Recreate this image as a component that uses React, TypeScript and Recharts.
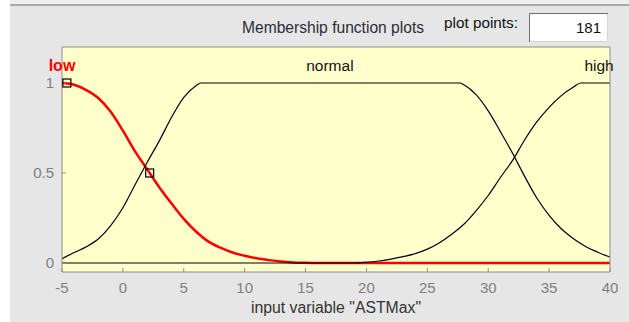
import React from "react";
import { ComposedChart, Line, Scatter, XAxis, YAxis, CartesianGrid, ReferenceDot } from "recharts";

// membership function samples (input variable range -5 .. 40)
const lowX = [-5, -4, -3, -2, -1, 0, 1, 2, 3, 4, 5, 6, 7, 8, 9, 10, 11, 12, 13, 14, 15, 16, 40];
const lowY = [1, 0.99, 0.96, 0.915, 0.84, 0.735, 0.62, 0.52, 0.42, 0.33, 0.245, 0.175, 0.12, 0.085, 0.058, 0.04, 0.026, 0.016, 0.008, 0.003, 0.001, 0, 0];

const normalX = [-5, -4, -3, -2, -1, 0, 1, 2, 3, 4, 5, 6, 6.4, 27.7, 28, 29, 30, 31, 32, 33, 34, 35, 36, 37, 38, 39, 40];
const normalY = [0.024, 0.058, 0.09, 0.135, 0.208, 0.307, 0.435, 0.56, 0.68, 0.81, 0.92, 0.985, 1, 1, 0.99, 0.935, 0.845, 0.73, 0.61, 0.48, 0.36, 0.265, 0.19, 0.135, 0.092, 0.06, 0.033];

const highX = [-5, 19, 20, 21, 22, 23, 24, 25, 26, 27, 28, 29, 30, 31, 32, 33, 34, 35, 36, 37, 37.6, 40];
const highY = [0, 0, 0.004, 0.011, 0.022, 0.035, 0.052, 0.077, 0.113, 0.16, 0.215, 0.29, 0.375, 0.475, 0.57, 0.685, 0.785, 0.865, 0.93, 0.978, 1, 1];

// handles on the selected curve
const handleX = [-4.6, 2.2];
const handleY = [1, 0.5];

const mfNames = ["low", "normal", "high"];
const mfLabelX = [-5, 17, 39.1];

const xTicks = [-5, 0, 5, 10, 15, 20, 25, 30, 35, 40];
const yTicks = [0, 0.5, 1];
const plotPoints = 181;

const zip = (xs: number[], ys: number[]) => xs.map((x, i) => ({ x, y: ys[i] }));

const FONT = "'Liberation Sans', Arial, sans-serif";
const BORDER = "#8c8c8c";

const Handle = (props: any) => {
  const { cx, cy } = props;
  return <rect x={cx - 4} y={cy - 4} width={8} height={8} fill="none" stroke="#000" strokeWidth={1.2} />;
};

export default function App() {
  return (
    <div style={{ position: "absolute", left: 0, top: 0, width: 629, height: 322, background: "#fff", fontFamily: FONT }}>
      <svg width={629} height={322} style={{ position: "absolute", left: 0, top: 0 }}>
        <rect x={10} y={0} width={619} height={322} fill="#e6e6e6" />
        <rect x={10} y={0} width={619} height={4} fill="#eeeeee" />
        <rect x={10} y={4} width={619} height={2} fill="#a8a8a8" />
        <text x={242} y={33} fontSize={15.6} fill="#2c2c3a">Membership function plots</text>
        <text x={444} y={28} fontSize={15.3} fill="#111">plot points:</text>
        <rect x={529} y={13} width={79} height={29} fill="#fff" />
        <path d="M529.5 42 V13.5 H608" stroke="#6e6e6e" fill="none" />
        <path d="M530 41.5 H607.5 V14" stroke="#d6d6d6" fill="none" />
        <text x={601} y={33} fontSize={15} fill="#111" textAnchor="end">{plotPoints}</text>
      </svg>
      <div style={{ position: "absolute", left: 0, top: 0 }}>
        <ComposedChart width={629} height={322} margin={{ top: 47, right: 19, bottom: 20, left: 22 }}>
          <CartesianGrid horizontal={false} vertical={false} fill="#ffffcc" />
          <XAxis
            xAxisId={0}
            type="number"
            dataKey="x"
            domain={[-5, 40]}
            ticks={xTicks}
            allowDataOverflow
            height={30}
            tickSize={-4}
            tickMargin={14}
            stroke={BORDER}
            tick={{ fill: "#808080", fontSize: 15, fontFamily: FONT }}
            label={{ value: 'input variable "ASTMax"', position: "bottom", offset: 0, fill: "#333", fontSize: 15.8, fontFamily: FONT }}
          />
          <XAxis
            xAxisId="top"
            orientation="top"
            mirror
            type="number"
            domain={[-5, 40]}
            ticks={xTicks}
            allowDataOverflow
            tick={false}
            tickSize={4}
            stroke={BORDER}
          />
          <YAxis
            yAxisId={0}
            type="number"
            domain={[-0.05, 1.2]}
            ticks={yTicks}
            allowDataOverflow
            width={40}
            tickSize={-4}
            tickMargin={12}
            stroke={BORDER}
            tick={{ fill: "#808080", fontSize: 15, fontFamily: FONT }}
          />
          <YAxis
            yAxisId="right"
            orientation="right"
            mirror
            type="number"
            domain={[-0.05, 1.2]}
            ticks={yTicks}
            allowDataOverflow
            tick={false}
            tickSize={4}
            stroke={BORDER}
          />
          <Line data={zip(lowX, lowY)} dataKey="y" type="monotone" stroke="#ff0000" strokeWidth={2.5} dot={false} isAnimationActive={false} />
          <Line data={zip(normalX, normalY)} dataKey="y" type="monotone" stroke="#000" strokeWidth={1.2} dot={false} isAnimationActive={false} />
          <Line data={zip(highX, highY)} dataKey="y" type="monotone" stroke="#000" strokeWidth={1.2} dot={false} isAnimationActive={false} />
          <Scatter data={zip(handleX, handleY)} dataKey="y" shape={<Handle />} isAnimationActive={false} />
          {mfNames.map((name, i) => (
            <ReferenceDot
              key={name}
              x={mfLabelX[i]}
              y={1.1}
              r={0}
              ifOverflow="visible"
              stroke="none"
              label={{
                value: name,
                position: "center",
                fill: i === 0 ? "#ff0000" : "#111",
                fontSize: i === 0 ? 16 : 15.5,
                fontWeight: i === 0 ? "bold" : "normal",
                fontFamily: FONT,
              }}
            />
          ))}
        </ComposedChart>
      </div>
    </div>
  );
}
